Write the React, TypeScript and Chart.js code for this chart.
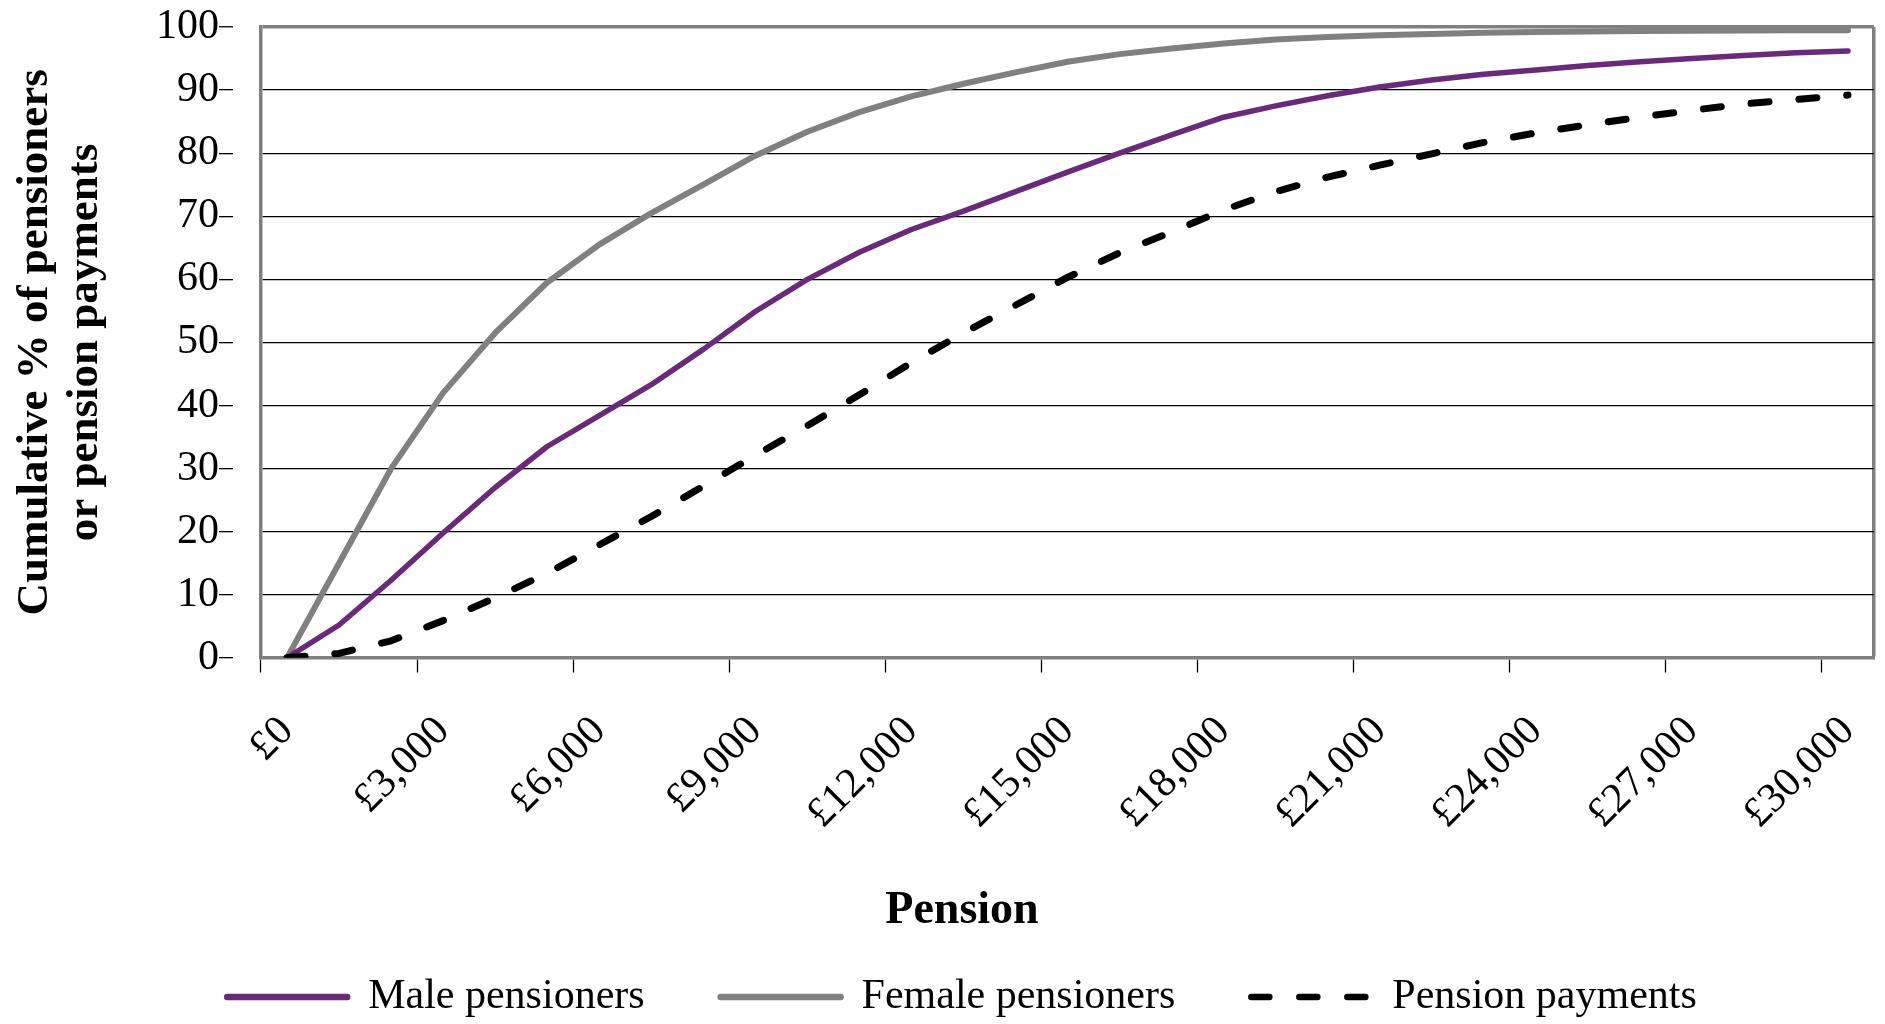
import React, { useEffect, useRef } from 'react';
import { Chart, registerables } from 'chart.js';

Chart.register(...registerables);

const categories = [
  '£0', '£1,000', '£2,000', '£3,000', '£4,000', '£5,000', '£6,000', '£7,000',
  '£8,000', '£9,000', '£10,000', '£11,000', '£12,000', '£13,000', '£14,000',
  '£15,000', '£16,000', '£17,000', '£18,000', '£19,000', '£20,000', '£21,000',
  '£22,000', '£23,000', '£24,000', '£25,000', '£26,000', '£27,000', '£28,000',
  '£29,000', '£30,000',
];

const malePensioners = [
  0, 5.2, 12.3, 19.8, 27, 33.5, 38.4, 43.3, 48.9, 54.9, 60, 64.3, 67.9, 70.8,
  73.9, 77, 80, 82.9, 85.7, 87.5, 89.1, 90.5, 91.6, 92.5, 93.2, 93.9, 94.5, 95,
  95.5, 95.9, 96.2,
];

const femalePensioners = [
  0, 15, 30, 42, 51.5, 59.5, 65.5, 70.5, 75, 79.6, 83.4, 86.5, 89, 91, 92.8,
  94.5, 95.7, 96.6, 97.4, 98, 98.4, 98.7, 98.9, 99.1, 99.2, 99.3, 99.35, 99.4,
  99.45, 99.5, 99.5,
];

const pensionPayments = [
  0, 0.7, 2.7, 5.9, 9.5, 13.4, 17.9, 22.4, 27.2, 32.1, 36.8, 41.7, 46.8, 51.5,
  55.9, 60.3, 64.2, 67.5, 71, 73.9, 76.2, 78.1, 79.9, 81.7, 83.2, 84.5, 85.7,
  86.8, 87.8, 88.5, 89.2,
];

const seriesLabels = ['Male pensioners', 'Female pensioners', 'Pension payments'];
const yTitleLines = ['Cumulative % of pensioners', 'or pension payments'];
const xTitle = 'Pension';

const FONT = "'Liberation Serif', 'Times New Roman', serif";
const GREY = '#808080';
const PURPLE = '#6A2A7A';

export default function App() {
  const ref = useRef<HTMLCanvasElement>(null);

  useEffect(() => {
    if (!ref.current) return;
    const chart = new Chart(ref.current, {
      type: 'line',
      data: {
        labels: categories,
        datasets: [
          {
            label: seriesLabels[0],
            data: malePensioners,
            borderColor: PURPLE,
            backgroundColor: PURPLE,
            borderWidth: 5.5,
            pointRadius: 0,
            tension: 0,
            borderJoinStyle: 'round',
            borderCapStyle: 'round',
            order: 1,
          },
          {
            label: seriesLabels[1],
            data: femalePensioners,
            borderColor: GREY,
            backgroundColor: GREY,
            borderWidth: 6,
            pointRadius: 0,
            tension: 0,
            borderJoinStyle: 'round',
            borderCapStyle: 'round',
            order: 2,
          },
          {
            label: seriesLabels[2],
            data: pensionPayments,
            borderColor: '#000000',
            backgroundColor: '#000000',
            borderWidth: 7,
            borderDash: [18, 30],
            pointRadius: 0,
            tension: 0,
            borderJoinStyle: 'round',
            borderCapStyle: 'round',
            order: 0,
          },
        ],
      },
      options: {
        responsive: false,
        animation: false,
        devicePixelRatio: 1,
        layout: { padding: { left: 50, right: 11, top: 27, bottom: -4 } },
        scales: {
          x: {
            type: 'category',
            offset: true,
            grid: {
              offset: true,
              drawOnChartArea: true,
              drawTicks: true,
              tickLength: 49,
              tickWidth: 1.3,
              tickBorderDash: [13, 400],
              color: (ctx: any) => (ctx.type === 'tick' ? 'rgba(0,0,0,0)' : GREY),
              lineWidth: (ctx: any) => (ctx.type === 'tick' ? 1 : 3.5),
              tickColor: (ctx: any) =>
                ctx.type === 'tick' && ctx.index % 3 === 0 ? '#000000' : 'rgba(0,0,0,0)',
            },
            border: { display: true, color: GREY, width: 3.5 },
            ticks: {
              autoSkip: false,
              minRotation: 45,
              maxRotation: 45,
              padding: 0,
              color: '#000000',
              font: { family: FONT, size: 42 },
              callback: (_v: any, i: number) => (i % 3 === 0 ? categories[i] : ''),
            },
          },
          y: {
            min: 0,
            max: 100,
            grid: {
              drawTicks: true,
              tickLength: 42,
              tickWidth: 1.3,
              tickBorderDash: [14, 400],
              tickColor: '#000000',
              color: (ctx: any) => {
                const v = ctx.tick ? ctx.tick.value : null;
                if (v === 100) return GREY;
                if (v === 0) return 'rgba(0,0,0,0)';
                return '#000000';
              },
              lineWidth: (ctx: any) => (ctx.tick && ctx.tick.value === 100 ? 3.5 : 1.3),
            },
            border: { display: true, color: GREY, width: 3.5 },
            ticks: {
              stepSize: 10,
              padding: 0,
              color: '#000000',
              font: { family: FONT, size: 42 },
            },
            title: {
              display: true,
              text: yTitleLines,
              color: '#000000',
              font: { family: FONT, size: 45, weight: 'bold', lineHeight: 1.111 },
              padding: { top: -40, bottom: 46 },
            },
          },
        },
        plugins: {
          tooltip: { enabled: false },
          title: {
            display: true,
            position: 'bottom',
            text: xTitle,
            weight: 500,
            color: '#000000',
            font: { family: FONT, size: 46, weight: 'bold', lineHeight: 1.2 },
            padding: { top: 44.4, bottom: -38.6 },
          },
          legend: {
            display: true,
            position: 'bottom',
            weight: 1000,
            labels: {
              usePointStyle: true,
              pointStyleWidth: 120,
              padding: 76,
              color: '#000000',
              font: { family: FONT, size: 42 },
              generateLabels: (c: any) =>
                c.data.datasets.map((ds: any, i: number) => ({
                  text: ds.label,
                  fillStyle: ds.borderColor,
                  strokeStyle: ds.borderColor,
                  fontColor: '#000000',
                  lineWidth: 6.5,
                  lineDash: ds.borderDash || [],
                  lineCap: 'round',
                  lineJoin: 'round',
                  pointStyle: 'line',
                  hidden: false,
                  datasetIndex: i,
                })),
            },
          },
        },
      },
    } as any);
    return () => chart.destroy();
  }, []);

  return (
    <div
      style={{
        position: 'fixed',
        left: 0,
        top: 0,
        width: 1885,
        height: 1024,
        background: '#ffffff',
      }}
    >
      <canvas
        ref={ref}
        width={1885}
        height={1024}
        style={{ width: 1885, height: 1024, display: 'block' }}
      />
    </div>
  );
}
